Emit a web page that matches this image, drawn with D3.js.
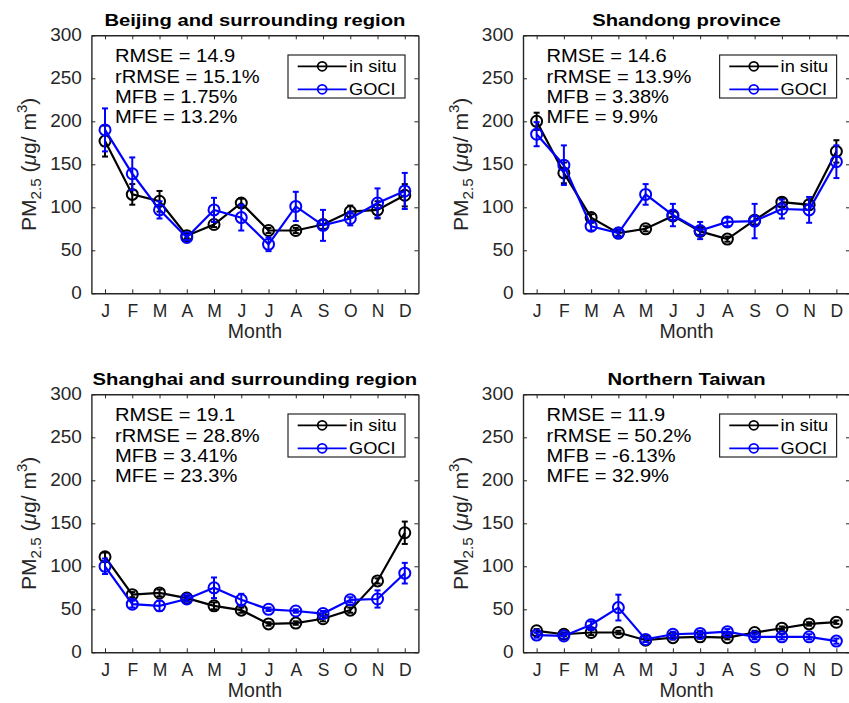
<!DOCTYPE html>
<html>
<head>
<meta charset="utf-8">
<script src="https://cdn.jsdelivr.net/npm/d3@7"></script>
<style>
  body { margin: 0; background: #fff; }
  svg text { font-family: "Liberation Sans", Arial, Helvetica, sans-serif; }
</style>
</head>
<body>
<div id="chart"></div>
<script>
// month tick labels
const months = ["J", "F", "M", "A", "M", "J", "J", "A", "S", "O", "N", "D"];
const yTicks = [0, 50, 100, 150, 200, 250, 300];

const titles = ["Beijing and surrounding region", "Shandong province",
                "Shanghai and surrounding region", "Northern Taiwan"];

const stats = [
  ["RMSE = 14.9", "rRMSE = 15.1%", "MFB = 1.75%", "MFE = 13.2%"],
  ["RMSE = 14.6", "rRMSE = 13.9%", "MFB = 3.38%", "MFE = 9.9%"],
  ["RMSE = 19.1", "rRMSE = 28.8%", "MFB = 3.41%", "MFE = 23.3%"],
  ["RMSE = 11.9", "rRMSE = 50.2%", "MFB = -6.13%", "MFE = 32.9%"]
];

// in situ (black) and GOCI (blue), monthly mean and error
const beijingInSitu    = [177, 115, 107, 67, 80, 105, 73, 73, 80, 95, 97, 114];
const beijingInSituErr = [18, 12, 12, 3, 3, 5, 3, 3, 5, 7, 10, 13];
const beijingGoci      = [190, 139, 97, 65, 97, 88, 57, 101, 79, 87, 105, 119];
const beijingGociErr   = [25, 19, 10, 3, 14, 15, 8, 17, 18, 8, 17, 21];

const shandongInSitu    = [200, 140, 88, 70, 75, 90, 72, 63, 85, 106, 103, 165];
const shandongInSituErr = [10, 12, 4, 3, 3, 5, 4, 3, 5, 5, 6, 13];
const shandongGoci      = [185, 149, 78, 70, 115, 91, 73, 83, 84, 98, 97, 153];
const shandongGociErr   = [14, 23, 5, 4, 12, 13, 10, 5, 20, 11, 15, 19];

const shanghaiInSitu    = [111, 67, 69, 63, 54, 49, 33, 34, 39, 49, 83, 139];
const shanghaiInSituErr = [5, 3, 4, 3, 4, 3, 2, 2, 3, 3, 3, 13];
const shanghaiGoci      = [100, 56, 54, 62, 75, 61, 50, 48, 45, 61, 62, 92];
const shanghaiGociErr   = [9, 4, 6, 3, 12, 7, 2, 2, 3, 3, 10, 12];

const taiwanInSitu    = [25, 21, 23, 23, 14, 17, 18, 17, 23, 28, 33, 35];
const taiwanInSituErr = [2, 2, 3, 2, 2, 2, 2, 2, 2, 2, 2, 2];
const taiwanGoci      = [20, 19, 32, 52, 15, 21, 22, 24, 18, 18, 18, 13];
const taiwanGociErr   = [3, 3, 4, 15, 3, 3, 3, 3, 3, 3, 3, 3];

const panels = [
  { ins: beijingInSitu, insErr: beijingInSituErr, goci: beijingGoci, gociErr: beijingGociErr },
  { ins: shandongInSitu, insErr: shandongInSituErr, goci: shandongGoci, gociErr: shandongGociErr },
  { ins: shanghaiInSitu, insErr: shanghaiInSituErr, goci: shanghaiGoci, gociErr: shanghaiGociErr },
  { ins: taiwanInSitu, insErr: taiwanInSituErr, goci: taiwanGoci, gociErr: taiwanGociErr }
];

const W = 849, H = 703;
const pw = 327, ph = 258;
const origins = [[91.4, 35.3], [523, 35.3], [91.4, 394.3], [523, 394.3]];
const axisColor = "#262626";

const svg = d3.select("#chart").append("svg")
  .attr("width", W).attr("height", H);

const x = d3.scaleLinear().domain([0.5, 12.5]).range([0, pw]);
const y = d3.scaleLinear().domain([0, 300]).range([ph, 0]);

// text in the original is a bit wider than Liberation Sans
function wide(sel, tx, ty, sx) {
  return sel.attr("transform", `translate(${tx},${ty}) scale(${sx},1)`);
}

panels.forEach(function (p, i) {
  const g = svg.append("g")
    .attr("transform", `translate(${origins[i][0]},${origins[i][1]})`);

  // axes (box with inward ticks)
  const monthTicks = d3.range(1, 13);
  const bottom = g.append("g").attr("transform", `translate(0,${ph})`)
    .call(d3.axisBottom(x).tickValues(monthTicks).tickFormat(d => months[d - 1])
      .tickSizeInner(-4).tickSizeOuter(0).tickPadding(11.5));
  const top = g.append("g")
    .call(d3.axisTop(x).tickValues(monthTicks).tickFormat("")
      .tickSizeInner(-4).tickSizeOuter(0));
  const left = g.append("g")
    .call(d3.axisLeft(y).tickValues(yTicks)
      .tickSizeInner(-4).tickSizeOuter(0).tickPadding(9));
  const right = g.append("g").attr("transform", `translate(${pw},0)`)
    .call(d3.axisRight(y).tickValues(yTicks).tickFormat("")
      .tickSizeInner(-4).tickSizeOuter(0));

  [bottom, top, left, right].forEach(a => {
    a.select(".domain").attr("stroke", axisColor).attr("stroke-width", 1.4);
    a.selectAll(".tick line").attr("stroke", axisColor).attr("stroke-width", 1);
    a.selectAll(".tick text").attr("fill", axisColor)
      .style("font-size", "17.5px");
  });
  left.selectAll(".tick text")
    .attr("transform", "scale(1.085,1)")
    .attr("x", -9.5 / 1.085);

  // title
  wide(g.append("text"), pw / 2, -9.5, 1.19)
    .attr("text-anchor", "middle")
    .style("font-size", "17px").style("font-weight", "bold")
    .text(titles[i]);

  // x label
  g.append("text")
    .attr("x", pw / 2).attr("y", ph + 44.5)
    .attr("text-anchor", "middle")
    .attr("fill", axisColor)
    .style("font-size", "19.5px")
    .text("Month");

  // y label
  const yl = g.append("text")
    .attr("transform", `translate(-55.5,${ph / 2}) rotate(-90) scale(1.08,1)`)
    .attr("text-anchor", "middle")
    .attr("fill", axisColor)
    .style("font-size", "19.5px");
  yl.append("tspan").text("PM");
  yl.append("tspan").attr("dy", 5.5).style("font-size", "14px").text("2.5");
  yl.append("tspan").attr("dy", -5.5).text(" (");
  yl.append("tspan").style("font-style", "italic").text("μ");
  yl.append("tspan").text("g/ m");
  yl.append("tspan").attr("dy", -8.5).style("font-size", "14px").text("3");
  yl.append("tspan").attr("dy", 8.5).text(")");

  // statistics text
  g.append("g").selectAll("text")
    .data(stats[i])
    .join("text")
    .attr("transform", (d, k) => `translate(23.6,${27 + k * 20.2}) scale(1.15,1)`)
    .style("font-size", "17.5px")
    .text(d => d);

  // series
  const series = [
    { vals: p.ins, err: p.insErr, color: "#000000" },
    { vals: p.goci, err: p.gociErr, color: "#0000ff" }
  ];
  const line = d3.line().x((d, k) => x(k + 1)).y(d => y(d));

  series.forEach(function (s) {
    const sg = g.append("g");
    sg.append("path")
      .datum(s.vals)
      .attr("d", line)
      .attr("fill", "none")
      .attr("stroke", s.color)
      .attr("stroke-width", 2.2);

    const eb = sg.append("g").selectAll("g")
      .data(s.vals)
      .join("g");
    eb.append("line")
      .attr("x1", (d, k) => x(k + 1)).attr("x2", (d, k) => x(k + 1))
      .attr("y1", (d, k) => y(d - s.err[k])).attr("y2", (d, k) => y(d + s.err[k]))
      .attr("stroke", s.color).attr("stroke-width", 2);
    [-1, 1].forEach(function (sign) {
      eb.append("line")
        .attr("x1", (d, k) => x(k + 1) - 3).attr("x2", (d, k) => x(k + 1) + 3)
        .attr("y1", (d, k) => y(d + sign * s.err[k]))
        .attr("y2", (d, k) => y(d + sign * s.err[k]))
        .attr("stroke", s.color).attr("stroke-width", 2);
    });
    eb.append("circle")
      .attr("cx", (d, k) => x(k + 1)).attr("cy", d => y(d))
      .attr("r", 5.5)
      .attr("fill", "none")
      .attr("stroke", s.color).attr("stroke-width", 2);
  });

  // legend
  const lg = g.append("g").attr("transform", "translate(196.6,19.7)");
  lg.append("rect")
    .attr("width", 117).attr("height", 43)
    .attr("fill", "#fff")
    .attr("stroke", axisColor).attr("stroke-width", 1.2);
  const items = [["in situ", "#000000"], ["GOCI", "#0000ff"]];
  items.forEach(function (it, k) {
    const ry = 11.3 + k * 23;
    lg.append("line")
      .attr("x1", 9.7).attr("x2", 58.7).attr("y1", ry).attr("y2", ry)
      .attr("stroke", it[1]).attr("stroke-width", 1.8);
    lg.append("circle")
      .attr("cx", 34.2).attr("cy", ry).attr("r", 4.5)
      .attr("fill", "none").attr("stroke", it[1]).attr("stroke-width", 1.8);
    wide(lg.append("text"), 61, ry + 5.5, 1.14)
      .style("font-size", "16px")
      .text(it[0]);
  });
});
</script>
</body>
</html>
